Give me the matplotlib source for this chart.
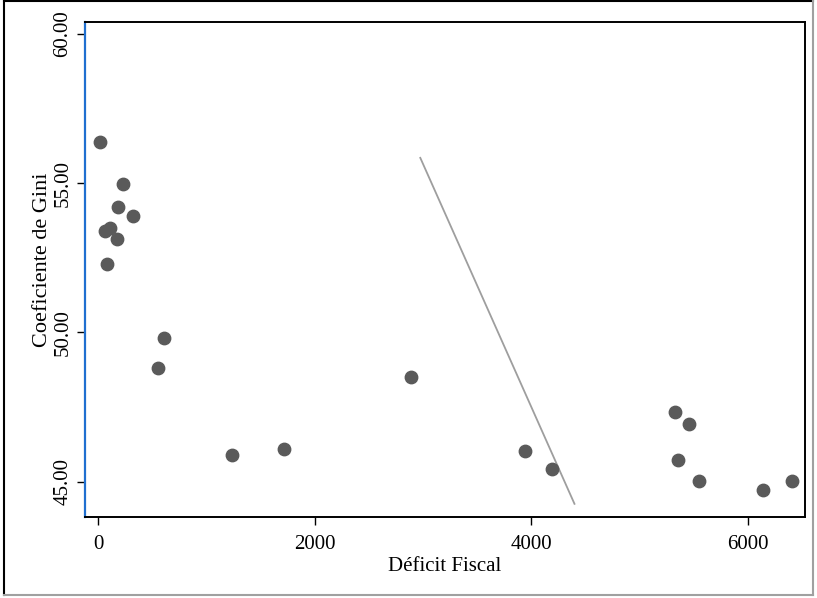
import matplotlib
matplotlib.use('Agg')
import matplotlib.pyplot as plt
from matplotlib.lines import Line2D

plt.rcParams['font.family'] = ['Liberation Serif', 'DejaVu Serif']

## Puntos: deficit fiscal vs coeficiente de Gini
deficit = [16, 225, 179, 318, 62, 108, 176, 83, 610, 555, 1233, 1714, 2890,
           3942, 4194, 5325, 5458, 5356, 5547, 6138, 6410]
gini = [56.39, 54.96, 54.21, 53.91, 53.41, 53.51, 53.12, 52.30, 49.80, 48.81,
        45.90, 46.10, 48.52, 46.02, 45.42, 47.33, 46.93, 45.72, 45.03, 44.74, 45.03]

# linea de ajuste
line_x = [2974, 4398]
line_y = [55.85, 44.26]

xticks = [0, 2000, 4000, 6000]
yticks = [45, 50, 55, 60]
ytick_labels = ['45.00', '50.00', '55.00', '60.00']

fig = plt.figure(figsize=(8.17, 5.98), dpi=100)
ax = fig.add_axes([0.104, 0.1355, 0.8813, 0.8277])

ax.scatter(deficit, gini, s=80, c='#5a5a5a', zorder=3)
ax.plot(line_x, line_y, c='#9e9e9e', lw=1.3)

ax.set_xlim(-123, 6527)
ax.set_ylim(43.82, 60.4)
ax.set_xticks(xticks)
ax.set_xticklabels([str(t) for t in xticks])
ax.set_yticks(yticks)
ax.set_yticklabels(ytick_labels, rotation=90, va='center')
ax.tick_params(labelsize=15, length=6, width=1, direction='out')
ax.tick_params(axis='x', pad=7)
ax.tick_params(axis='y', pad=3)

ax.set_xlabel('Déficit Fiscal', fontsize=15, labelpad=2)
ax.set_ylabel('Coeficiente de Gini', fontsize=16)
ax.yaxis.set_label_coords(-0.046, 0.52)

for s in ['top', 'right', 'bottom']:
    ax.spines[s].set_linewidth(1.4)
    ax.spines[s].set_color('black')
ax.spines['left'].set_color('#1f6fd0')
ax.spines['left'].set_linewidth(1.6)

# marco exterior
W, H = 817, 598
def fx(px): return px / W
def fy(py): return 1 - py / H
fig.add_artist(Line2D([fx(4), fx(813)], [fy(1), fy(1)], color='black', lw=1.5))
fig.add_artist(Line2D([fx(4), fx(4)], [fy(1), fy(595)], color='black', lw=1.5))
fig.add_artist(Line2D([fx(4), fx(813)], [fy(595), fy(595)], color='#a0a0a0', lw=1.5))
fig.add_artist(Line2D([fx(813), fx(813)], [fy(1), fy(595)], color='#a0a0a0', lw=1.5))

plt.savefig('out.png', dpi=100)
